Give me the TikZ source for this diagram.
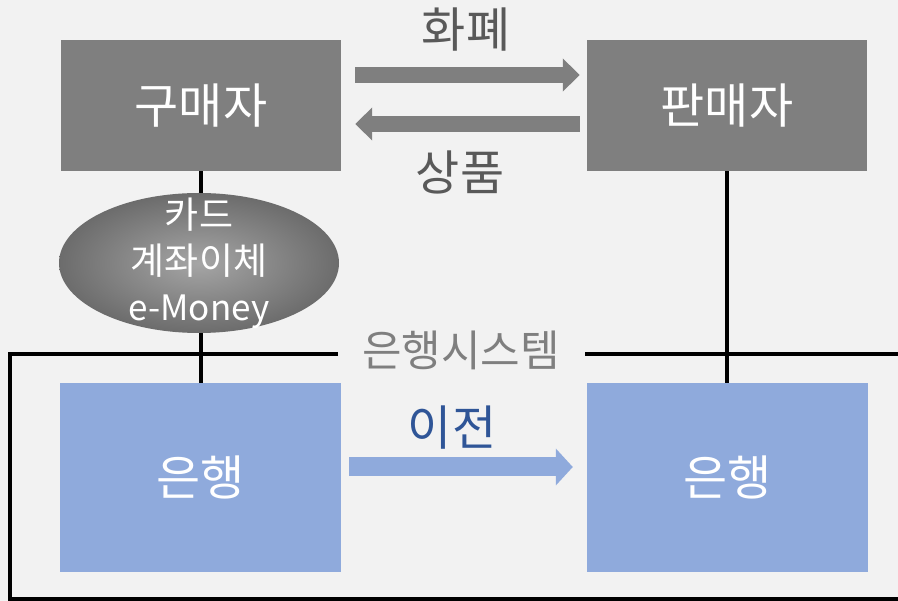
\documentclass[tikz,border=0pt]{standalone}
\usepackage{fontspec}
\setmainfont{Noto Sans CJK KR}
\usepackage{tikz}
\usetikzlibrary{arrows.meta}
\usetikzlibrary{shapes.geometric}

\definecolor{bgcol}{HTML}{F2F2F2}
\definecolor{boxgray}{HTML}{7F7F7F}
\definecolor{txtgray}{HTML}{595959}
\definecolor{bankblue}{HTML}{8FAADC}
\definecolor{darkblue}{HTML}{2F5597}

\tikzset{
  partybox/.style={rectangle, fill=boxgray, text=white, minimum width=280pt, minimum height=131pt, font=\fontsize{48}{52}\selectfont},
  bankbox/.style={rectangle, fill=bankblue, text=white, minimum width=281pt, minimum height=189pt, font=\fontsize{48}{52}\selectfont},
  lbl/.style={text=txtgray, font=\fontsize{48}{52}\selectfont},
  grayarrow/.style={draw=boxgray, line width=16pt, -{Triangle[length=17pt,width=32pt]}},
  bluearrow/.style={draw=bankblue, line width=19pt, -{Triangle[length=17pt,width=36pt]}},
  wire/.style={draw=black, line width=3.5pt}
}

\begin{document}
\begin{tikzpicture}[x=1pt,y=-1pt]
%%% background
\fill[bgcol] (0,0) rectangle (898,601);
\useasboundingbox (0,0) rectangle (898,601);
%%% draws top boxes
\node[partybox] (buyer) at (201,105.5) {구매자};
\node[partybox] (seller) at (727,105.5) {판매자};
%%% draws bank boxes
\node[bankbox] (bankL) at (200.5,477.5) {은행};
\node[bankbox] (bankR) at (727.5,477.5) {은행};
% labels
\node[lbl] (money) at (466,30) {화폐};
\node[lbl] (goods) at (460,172) {상품};
\node[text=darkblue, font=\fontsize{48}{52}\selectfont] (transfer) at (452,428) {이전};
\node[lbl, text=boxgray, font=\fontsize{43}{48}\selectfont] (system) at (461,350) {은행시스템};
% arrows
\draw[grayarrow] ([xshift=14pt,yshift=30.5pt]buyer.east) -- ([xshift=-7pt,yshift=30.5pt]seller.west);
\draw[grayarrow] ([xshift=-7pt,yshift=-18.5pt]seller.west) -- ([xshift=14pt,yshift=-18.5pt]buyer.east);
\draw[bluearrow] ([xshift=8pt,yshift=10.5pt]bankL.east) -- ([xshift=-14pt,yshift=10.5pt]bankR.west);
% draws wires
\draw[wire] (buyer.south) -- (buyer.south |- bankL.north);
\draw[wire] (seller.south) -- (seller.south |- bankR.north);
\coordinate (frameA) at (338,354);
\coordinate (frameB) at (585,354);
\draw[wire] (frameA) -- (10,354) -- (10,599) -- (900,599);
\draw[wire] (frameB) -- (900,354);
% payment ellipse
\node[ellipse, inner color=boxgray!70!white, outer color=boxgray!85!black, minimum width=280pt, minimum height=140pt, inner sep=0pt] (pay) at (199,263) {};
\node[text=white, align=center, font=\fontsize{37}{46}\selectfont] (paytext) at (pay.center) {카드\\계좌이체\\{\fontsize{35}{46}\selectfont e-Money}};
\end{tikzpicture}
\end{document}
